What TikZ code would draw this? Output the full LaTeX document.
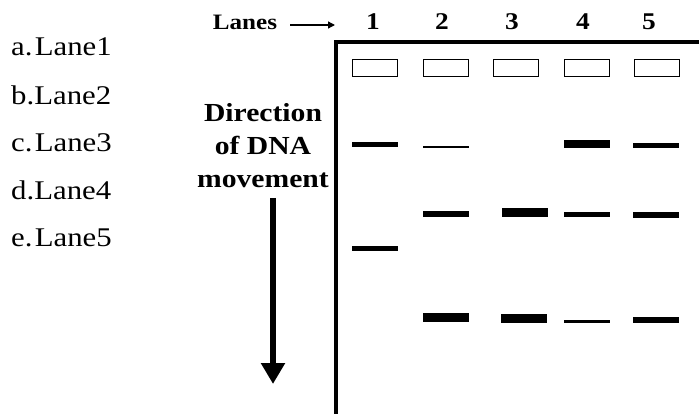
\documentclass[tikz,border=0pt]{standalone}
\usepackage{fontspec}
\setmainfont{Liberation Serif}
\usepackage{graphicx}
\usetikzlibrary{arrows.meta}
\newcommand\hsc[1]{\scalebox{1.14}[1]{#1}}
\begin{document}
\begin{tikzpicture}[x=1pt,y=-1pt,
  lbl/.style={inner sep=0pt,anchor=west,font=\fontsize{27}{27}\selectfont},
  num/.style={inner sep=0pt,font=\fontsize{24}{24}\selectfont\bfseries},
  well/.style={draw,line width=1.6pt,minimum width=45pt,minimum height=17pt,inner sep=0pt},
  band/.style={fill=black,minimum width=46pt,inner sep=0pt,draw=none}]
\useasboundingbox (0,0) rectangle (699,414);
% left list
\node[lbl] (la) at (11,47) {\hsc{a.\kern2pt Lane1}};
\node[lbl] (lb) at (11,95) {\hsc{b.Lane2}};
\node[lbl] (lc) at (11,143) {\hsc{c.\kern2pt Lane3}};
\node[lbl] (ld) at (11,190) {\hsc{d.Lane4}};
\node[lbl] (le) at (11,238) {\hsc{e.\kern2pt Lane5}};
% Lanes label
\node[inner sep=0pt,font=\fontsize{22}{22}\selectfont\bfseries] (lanes) at (245,22) {\hsc{Lanes}};
\coordinate (lanesA) at (290,25);
\coordinate (lanesB) at (335,25);
\draw[line width=1.3pt,-{Triangle[width=7pt,length=7pt]}] (lanesA) -- (lanesB);
% lane numbers
\node[num] (n1) at (373,22) {\hsc{1}};
\node[num] (n2) at (442,22) {\hsc{2}};
\node[num] (n3) at (512,22) {\hsc{3}};
\node[num] (n4) at (583,22) {\hsc{4}};
\node[num] (n5) at (649,22) {\hsc{5}};
% direction text
\node[inner sep=0pt,align=center,font=\fontsize{26}{33}\selectfont\bfseries] (dir) at (263,146)
  {\hsc{Direction}\\\hsc{of DNA}\\\hsc{movement}};
\coordinate (arTop) at (273,198);
\coordinate (arEnd) at (273,384);
\draw[line width=6pt,-{Triangle[width=23pt,length=21pt]}] (arTop) -- (arEnd);
% gel frame
\coordinate (gTR) at (699,42);
\coordinate (gTL) at (336,42);
\coordinate (gBL) at (336,414);
\draw[line width=4.5pt] (gTR) -- (gTL) -- (gBL);
% wells
\node[well] (w1) at (375,68) {};
\node[well] (w2) at (446,68) {};
\node[well] (w3) at (516,68) {};
\node[well] (w4) at (587,68) {};
\node[well] (w5) at (657,68) {};
% bands row 1
\node[band,minimum height=5pt] (b1a) at (375,145) {};
\node[band,minimum height=2.6pt] (b2a) at (446,147) {};
\node[band,minimum height=8.5pt] (b4a) at (587,144) {};
\node[band,minimum height=5pt] (b5a) at (656,146) {};
% bands row 2
\node[band,minimum height=5.5pt] (b2b) at (446,214) {};
\node[band,minimum height=9pt] (b3b) at (525,213) {};
\node[band,minimum height=5pt] (b4b) at (587,215) {};
\node[band,minimum height=5.5pt] (b5b) at (656,215) {};
% lane 1 lower band
\node[band,minimum height=5pt] (b1b) at (375,249) {};
% bands row 3
\node[band,minimum height=9pt] (b2c) at (446,317) {};
\node[band,minimum height=9pt] (b3c) at (524,318) {};
\node[band,minimum height=3pt] (b4c) at (587,321) {};
\node[band,minimum height=5.5pt] (b5c) at (656,320) {};
\end{tikzpicture}
\end{document}
